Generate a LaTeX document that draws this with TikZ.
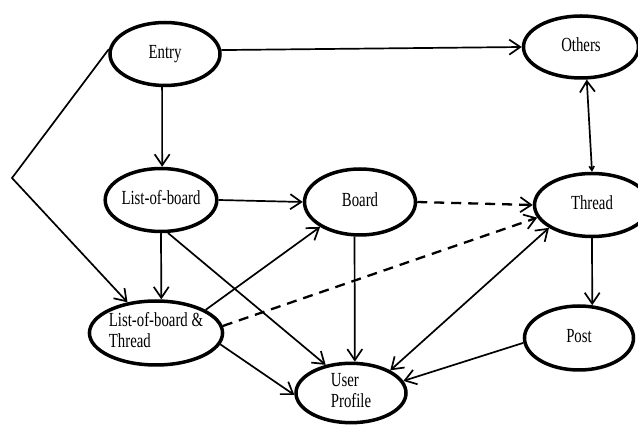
\documentclass[tikz,border=0pt]{standalone}
\usepackage{fontspec}
\setmainfont{Liberation Serif}
\usetikzlibrary{arrows.meta,shapes.geometric}
\newcommand{\sqz}[1]{\scalebox{0.74}[1]{\begin{tabular}{@{}l@{}}#1\end{tabular}}}
\begin{document}
\begin{tikzpicture}[x=1pt,y=-1pt,
  st/.style={ellipse, draw, line width=3.5pt, inner sep=0pt, font=\fontsize{20}{21}\selectfont},
  ar/.style={line width=1.7pt, -{Straight Barb[length=11pt,width=15pt]}},
  dar/.style={line width=2.3pt, dash pattern=on 10pt off 7pt, -{Straight Barb[length=11pt,width=15pt,line width=1.7pt]}},
  bar/.style={line width=1.7pt, {Straight Barb[length=11pt,width=15pt]}-{Straight Barb[length=11pt,width=15pt]}}]
\useasboundingbox (0,0) rectangle (638,427);
\node[st, minimum width=110pt, minimum height=63pt] (entry) at (165,54) {\sqz{Entry}};
\node[st, minimum width=115pt, minimum height=62pt] (others) at (581,47) {\sqz{Others}};
\node[st, minimum width=111pt, minimum height=63pt] (lob) at (161,200) {\sqz{List-of-board}};
\node[st, minimum width=111pt, minimum height=66pt] (board) at (360,202) {\sqz{Board}};
\node[st, minimum width=115pt, minimum height=63pt] (thread) at (592,205) {\sqz{Thread}};
\node[st, minimum width=109pt, minimum height=64pt] (lobt) at (156,333) {\sqz{List-of-board \&\\Thread}};
\node[st, minimum width=109pt, minimum height=64pt] (post) at (579,338) {\sqz{Post}};
\node[st, minimum width=110pt, minimum height=57pt] (user) at (351,393) {\sqz{User\\Profile}};
\coordinate (bend) at (12,178);
\draw[ar] (entry.4) -- (others.180);
\draw[ar] (entry.-95) -- (lob.88);
\draw[ar] (entry.175) -- (bend) -- (lobt);
\draw[ar] (lob.east) -- (board.west);
\draw[ar] (lob.-90) -- (lobt.81);
\draw[ar] (lob.-78) -- (user.132);
\draw[ar] (lobt.25) -- (board.212);
\draw[dar] (lobt.6) -- (thread.193);
\draw[ar] (lobt.-10) -- (user.182);
\draw[dar] (board.east) -- (thread.west);
\draw[ar] (board.-99) -- (user.83);
\draw[line width=1.7pt, {Straight Barb[length=4pt,width=5pt]}-{Straight Barb[length=11pt,width=15pt]}] (thread.north) -- (others.-80);
\draw[bar] (thread.208) -- (user.30);
\draw[ar] (thread.south) -- (post.68);
\draw[ar] (post.185) -- (user.13);
\end{tikzpicture}
\end{document}
